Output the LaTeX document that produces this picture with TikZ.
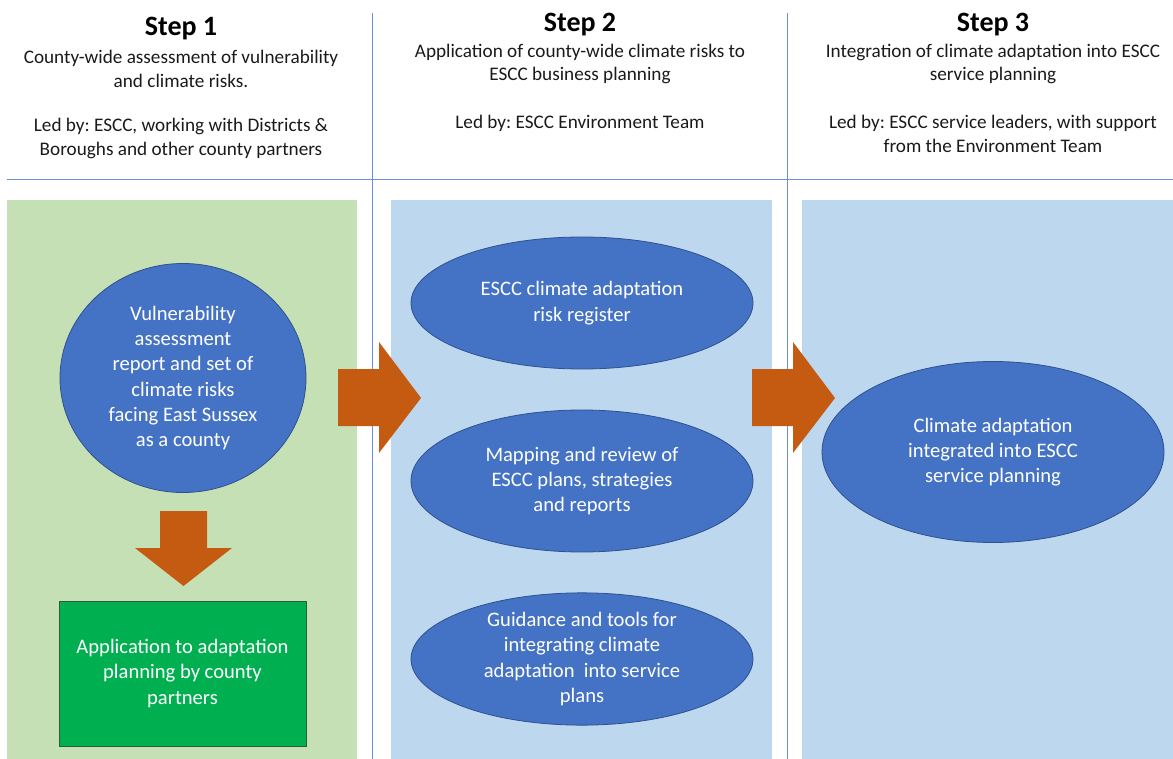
\documentclass[tikz,border=0pt]{standalone}
\usepackage{fontspec}
\setmainfont{Carlito}
\usetikzlibrary{shapes.geometric}
\frenchspacing

\definecolor{panelgreen}{HTML}{C5E0B4}
\definecolor{panelblue}{HTML}{BDD7EE}
\definecolor{bubblefill}{HTML}{4472C4}
\definecolor{bubbleedge}{HTML}{2F528F}
\definecolor{arrowfill}{HTML}{C55A11}
\definecolor{boxgreen}{HTML}{00B050}
\definecolor{boxedge}{HTML}{2E5B3C}
\definecolor{rulecol}{HTML}{6A8FD6}
\definecolor{headtext}{HTML}{1A1A1A}

\tikzset{
	steptitle/.style = {font=\fontsize{28}{32}\selectfont\bfseries, inner sep=0pt, text=black},
	desc/.style = {font=\fontsize{19.2}{23.5}\selectfont, align=center, inner sep=0pt, text=headtext},
	bubble/.style = {ellipse, draw=bubbleedge, fill=bubblefill, line width=0.8pt, text=white,
		align=center, inner sep=0pt, font=\fontsize{20.6}{25.3}\selectfont},
	outbox/.style = {rectangle, draw=boxedge, fill=boxgreen, line width=0.8pt, text=white,
		align=center, inner sep=0pt, font=\fontsize{20.6}{25.3}\selectfont},
	bigarrow/.style = {fill=arrowfill},
	divider/.style = {draw=rulecol, line width=1pt},
}

\begin{document}
\begin{tikzpicture}[x=1pt, y=-1pt]
	\useasboundingbox (0,0) rectangle (1173,759);
	% panels and rules
	\fill[panelgreen] (7,200) rectangle (357,759);
	\fill[panelblue] (391,200) rectangle (772,759);
	\fill[panelblue] (802,200) rectangle (1173,759);
	\draw[divider] (372,13)--(372,759); \draw[divider] (787,13)--(787,759);
	\draw[divider] (7,180)--(1173,180);

	% headings
	\node[steptitle] (s1) at (181,29) {Step 1};
	\node[steptitle] (s2) at (580,25) {Step 2};
	\node[steptitle] (s3) at (993,25) {Step 3};
	\node[desc] (d1) at (181,69) {County-wide assessment of vulnerability\\and climate risks.};
	\node[desc] (l1) at (181,138.5) {Led by: ESCC, working with Districts \&\\Boroughs and other county partners};
	\node[desc] (d2) at (580,64) {Application of county-wide climate risks to\\ESCC business planning};
	\node[desc] (l2) at (580,123) {Led by: ESCC Environment Team};
	\node[desc] (d3) at (993,64) {Integration of climate adaptation into ESCC\\service planning};
	\node[desc] (l3) at (993,134) {Led by: ESCC service leaders, with support\\from the Environment Team};

	% step 1
	\node[bubble, minimum width=246pt, minimum height=229pt] (vuln) at (183,378)
		{Vulnerability\\assessment\\report and set of\\climate risks\\facing East Sussex\\as a county};
	\node[outbox, minimum width=247pt, minimum height=145pt] (apply) at (182.5,673.5)
		{Application to adaptation\\planning by county\\partners};
	\fill[bigarrow] (160,511)--(207,511)--(207,548)--(232,548)--(183.5,586)--(135,548)--(160,548)--cycle;

	% step 2
	\node[bubble, minimum width=342pt, minimum height=132pt] (register) at (582,303)
		{ESCC climate adaptation\\risk register};
	\node[bubble, minimum width=342pt, minimum height=142pt] (mapping) at (582,481)
		{Mapping and review of\\ESCC plans, strategies\\and reports};
	\node[bubble, minimum width=342pt, minimum height=132pt] (guidance) at (582,659)
		{Guidance and tools for\\integrating climate\\adaptation\ \ into service\\plans};

	% step 3
	\node[bubble, minimum width=342pt, minimum height=181pt] (integrated) at (993,452)
		{Climate adaptation\\integrated into ESCC\\service planning};

	% arrows between steps
	\fill[bigarrow] (338,369)--(379,369)--(379,342)--(421,398)--(379,453)--(379,426)--(338,426)--cycle;
	\fill[bigarrow] (752,369)--(793,369)--(793,342)--(835,398)--(793,453)--(793,426)--(752,426)--cycle;
\end{tikzpicture}
\end{document}
